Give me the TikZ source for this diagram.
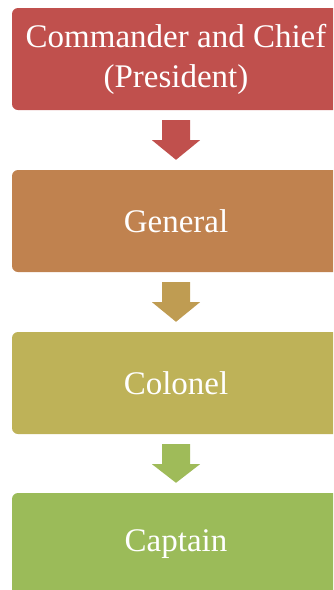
\documentclass[tikz,border=0pt]{standalone}
\usepackage{fontspec}
\setmainfont{Liberation Serif}
\usetikzlibrary{calc}
\definecolor{rankA}{HTML}{C0504D}
\definecolor{rankB}{HTML}{C0824F}
\definecolor{arrowB}{HTML}{BF9C52}
\definecolor{rankC}{HTML}{BEB258}
\definecolor{arrowC}{HTML}{9FBB59}
\definecolor{rankD}{HTML}{9BBB59}
\tikzset{
  rankbox/.style={rectangle, rounded corners=6pt, minimum width=328pt, minimum height=102pt,
    inner sep=0pt, text=white, align=center,
    font=\fontsize{33}{40}\selectfont},
}
% block arrow pointing down from one box to the next
\newcommand{\downarrowblock}[3]{%
  \fill[#3]
    ($(#1.south)+(-14pt,-10pt)$) -- ($(#1.south)+(14pt,-10pt)$) --
    ($(#1.south)+(14pt,-30pt)$) -- ($(#1.south)+(24pt,-30pt)$) --
    ($(#2.north)+(0pt,10pt)$) --
    ($(#1.south)+(-24pt,-30pt)$) -- ($(#1.south)+(-14pt,-30pt)$) -- cycle;}
\begin{document}
\begin{tikzpicture}[x=1pt,y=-1pt]
  \useasboundingbox (0,0) rectangle (333,590);
  \clip (0,0) rectangle (333,590);
  \node[rankbox, fill=rankA] (cic) at (176,59) {Commander and Chief\\(President)};
  \node[rankbox, fill=rankB] (gen) at (176,221) {General};
  \node[rankbox, fill=rankC] (col) at (176,383) {Colonel};
  \node[rankbox, fill=rankD] (cap) at (176,544) {Captain};
  \downarrowblock{cic}{gen}{rankA}
  \downarrowblock{gen}{col}{arrowB}
  \downarrowblock{col}{cap}{arrowC}
\end{tikzpicture}
\end{document}
